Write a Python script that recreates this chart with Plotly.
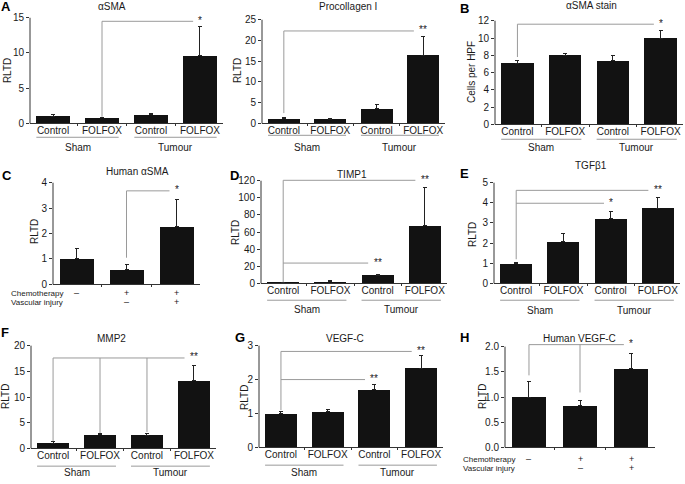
import plotly.graph_objects as go

W, H = 685, 484

# ---------------- data ----------------
cats4 = ["Control", "FOLFOX", "Control", "FOLFOX"]
group_names = ["Sham", "Tumour"]
chemo_signs = ["–", "+", "+"]
vasc_signs = ["", "–", "+"]

asma_vals = [1.05, 0.8, 1.2, 9.6]
asma_err = [0.2, 0.1, 0.2, 4.1]
procol_vals = [1.1, 1.0, 3.6, 16.5]
procol_err = [0.3, 0.25, 1.0, 4.4]
asma_stain_vals = [7.1, 8.0, 7.4, 10.0]
asma_stain_err = [0.35, 0.2, 0.6, 0.85]
h_asma_vals = [1.0, 0.57, 2.28]
h_asma_err = [0.43, 0.22, 1.07]
timp1_vals = [1.0, 2.3, 9.6, 67.3]
timp1_err = [0.3, 0.6, 1.4, 44.7]
tgfb1_vals = [0.98, 2.07, 3.23, 3.74]
tgfb1_err = [0.08, 0.42, 0.34, 0.52]
mmp2_vals = [1.0, 2.7, 2.6, 13.2]
mmp2_err = [0.35, 0.2, 0.35, 3.0]
vegfc_vals = [1.0, 1.06, 1.71, 2.34]
vegfc_err = [0.06, 0.07, 0.15, 0.37]
h_vegfc_vals = [1.0, 0.83, 1.56]
h_vegfc_err = [0.3, 0.1, 0.3]

# significance brackets: (from bar, to bar, level, label, [(drop bar, drop down to)])
asma_br = [(1, 3, 14.5, "*", [(1, 0.95)])]
procol_br = [(0, 3, 22.3, "**", [(0, 2.5)])]
asma_stain_br = [(0, 3, 11.6, "*", [(0, 7.8)])]
h_asma_br = [(1, 2, 3.68, "*", [(1, 1.05)])]
timp1_br = [(0, 3, 120.5, "**", [(0, 1.5)]), (0, 2, 23.8, "**", [])]
tgfb1_br = [(0, 3, 4.62, "**", [(0, 1.2)]), (0, 2, 3.98, "*", [])]
mmp2_br = [(0, 3, 17.6, "**", [(0, 1.4), (1, 3.0), (2, 3.2)])]
vegfc_br = [(0, 3, 2.83, "**", [(0, 1.1)]), (0, 2, 2.0, "**", [])]
h_vegfc_br = [(0, 2, 2.04, "*", [(0, 1.43), (1, 1.09)])]

# ---------------- layout specs (pixel geometry) ----------------
panels = [
    dict(letter="A", lpos=(6, 7), title="αSMA", tpos=(112, 7), ylab="RLTD", ylpos=(7, 72),
         vals=asma_vals, err=asma_err, br=asma_br, top=15, dtick=5,
         xl=30, xr=223, yt=18, yz=125, kind="sham", glines=(139, 149)),
    dict(letter="", lpos=(0, 0), title="Procollagen I", tpos=(348, 7), ylab="RLTD", ylpos=(237, 72),
         vals=procol_vals, err=procol_err, br=procol_br, top=25, dtick=5,
         xl=262, xr=445, yt=20, yz=125, kind="sham", glines=(137, 149)),
    dict(letter="B", lpos=(465, 9), title="αSMA stain", tpos=(591, 6), ylab="Cells per HPF", ylpos=(471, 73),
         vals=asma_stain_vals, err=asma_stain_err, br=asma_stain_br, top=12, dtick=2,
         xl=495, xr=683, yt=21, yz=126, kind="sham", glines=(141, 149)),
    dict(letter="C", lpos=(7, 178), title="Human αSMA", tpos=(137, 174), ylab="RLTD", ylpos=(34, 235),
         vals=h_asma_vals, err=h_asma_err, br=h_asma_br, top=4, dtick=1,
         xl=53, xr=200, yt=185, yz=288, kind="chemo", glines=(297, 306), chx=10),
    dict(letter="D", lpos=(234, 178), title="TIMP1", tpos=(352, 177), ylab="RLTD", ylpos=(235, 236),
         vals=timp1_vals, err=timp1_err, br=timp1_br, top=120, dtick=20,
         xl=261, xr=447, yt=183, yz=287, kind="sham", glines=(304, 313)),
    dict(letter="E", lpos=(465, 176), title="TGFβ1", tpos=(591, 168), ylab="RLTD", ylpos=(472, 238),
         vals=tgfb1_vals, err=tgfb1_err, br=tgfb1_br, top=5, dtick=1,
         xl=494, xr=680, yt=185, yz=287, kind="sham", glines=(304, 314)),
    dict(letter="F", lpos=(5, 337), title="MMP2", tpos=(111, 343), ylab="RLTD", ylpos=(5, 402),
         vals=mmp2_vals, err=mmp2_err, br=mmp2_br, top=20, dtick=5,
         xl=31, xr=216, yt=350, yz=454, kind="sham", glines=(472, 478)),
    dict(letter="G", lpos=(240, 342), title="VEGF-C", tpos=(345, 343), ylab="RLTD", ylpos=(244, 403),
         vals=vegfc_vals, err=vegfc_err, br=vegfc_br, top=3, dtick=1,
         xl=259, xr=443, yt=350, yz=453, kind="sham", glines=(471, 478)),
    dict(letter="H", lpos=(465, 342), title="Human VEGF-C", tpos=(579, 343), ylab="RLTD", ylpos=(482, 402),
         vals=h_vegfc_vals, err=h_vegfc_err, br=h_vegfc_br, top=2.0, dtick=0.5,
         xl=505, xr=655, yt=351, yz=453, kind="chemo", glines=(465, 474), chx=462),
]

FONT = "Liberation Sans, Arial, Helvetica, sans-serif"
TXT = "#1a1a1a"
BAR = "#121212"
GRAY = "#9a9a9a"
AX = "#333333"
HEAD = 9  # px headroom above top tick

def px(x):
    return x / W

def py(y):
    return 1 - y / H

def note(x, y, text, xref="paper", yref="paper", size=10, xanchor="center", **kw):
    d = dict(x=x, y=y, xref=xref, yref=yref, text=text, showarrow=False,
             xanchor=xanchor, yanchor="middle", font=dict(size=size, color=TXT))
    d.update(kw)
    return d

fig = go.Figure()
layout = dict(width=W, height=H, margin=dict(l=0, r=0, t=0, b=0),
              paper_bgcolor="white", plot_bgcolor="white", showlegend=False,
              font=dict(family=FONT, size=10, color=TXT))
shapes, annots = [], []

for i, p in enumerate(panels, start=1):
    n = len(p["vals"])
    xs = list(range(n))
    xa, ya = ("x" if i == 1 else f"x{i}"), ("y" if i == 1 else f"y{i}")
    xk, yk = ("xaxis" if i == 1 else f"xaxis{i}"), ("yaxis" if i == 1 else f"yaxis{i}")
    bw = 0.68
    fig.add_trace(go.Bar(
        x=xs, y=p["vals"], width=bw, marker=dict(color=BAR, line=dict(width=0)),
        error_y=dict(type="data", symmetric=False, array=p["err"], arrayminus=[0] * n,
                     color="#222222", thickness=1, width=2),
        xaxis=xa, yaxis=ya, hoverinfo="skip"))
    ratio = (p["yz"] - p["yt"] + HEAD) / (p["yz"] - p["yt"])
    pad = 0.47
    layout[xk] = dict(
        domain=[px(p["xl"]), px(p["xr"])], anchor=ya, range=[-pad, n - 1 + pad],
        tickmode="array", tickvals=xs,
        ticktext=(cats4 if p["kind"] == "sham" else [""] * n),
        ticks="", showline=True, linecolor=AX, linewidth=1, showgrid=False, zeroline=False,
        tickfont=dict(size=10, color=TXT), ticklabelstandoff=-2, ticklabeloverflow="allow",
        minor=dict(tickvals=[k + 0.5 for k in range(n)], ticks="outside", ticklen=2,
                   tickcolor=AX, showgrid=False),
        fixedrange=True)
    layout[yk] = dict(
        domain=[py(p["yz"]), py(p["yt"] - HEAD)], anchor=xa, range=[0, p["top"] * ratio],
        tickmode="linear", tick0=0, dtick=p["dtick"],
        tickformat=(".1f" if p["dtick"] < 1 else ""),
        ticks="outside", ticklen=3, tickcolor=AX, showline=False, showgrid=False,
        zeroline=False, tickfont=dict(size=10, color=TXT), ticklabeloverflow="allow",
        fixedrange=True)
    # y axis line, ending at the top tick
    shapes.append(dict(type="line", xref="paper", yref="paper",
                       x0=px(p["xl"]), x1=px(p["xl"]), y0=py(p["yz"]), y1=py(p["yt"]),
                       line=dict(color=AX, width=1)))
    # significance brackets
    for (a, b, lev, lab, drops) in p["br"]:
        end = b - (0.2 if lab == "**" else 0.14)
        shapes.append(dict(type="line", xref=xa, yref=ya, x0=a, x1=end, y0=lev, y1=lev,
                           line=dict(color=GRAY, width=1)))
        for (d, low) in drops:
            shapes.append(dict(type="line", xref=xa, yref=ya, x0=d, x1=d, y0=low, y1=lev,
                               line=dict(color=GRAY, width=1)))
        annots.append(note(b, lev, lab, xref=xa, yref=ya, yshift=1))
    # group labels
    if p["kind"] == "sham":
        for g, name in enumerate(group_names):
            x0, x1 = 2 * g - bw / 2, 2 * g + 1 + bw / 2
            shapes.append(dict(type="line", xref=xa, yref="paper", x0=x0, x1=x1,
                               y0=py(p["glines"][0]), y1=py(p["glines"][0]),
                               line=dict(color=GRAY, width=1)))
            annots.append(note((x0 + x1) / 2, py(p["glines"][1]), name, xref=xa, borderpad=0))
    else:
        for row, (name, signs) in enumerate([("Chemotherapy", chemo_signs),
                                             ("Vascular injury", vasc_signs)]):
            yrow = py(p["glines"][row])
            annots.append(note(px(p["chx"]), yrow, name, size=8, xanchor="left", borderpad=0))
            for k, s in enumerate(signs):
                if s:
                    annots.append(note(k, yrow, s, xref=xa, size=9, borderpad=0))
    # titles, letters, y labels
    annots.append(note(px(p["tpos"][0]), py(p["tpos"][1]), p["title"]))
    if p["letter"]:
        annots.append(dict(x=px(p["lpos"][0]), y=py(p["lpos"][1]), xref="paper", yref="paper",
                           text="<b>" + p["letter"] + "</b>", showarrow=False,
                           xanchor="center", yanchor="middle", borderpad=0,
                           font=dict(size=13, color="#000")))
    annots.append(note(px(p["ylpos"][0]), py(p["ylpos"][1]), p["ylab"], textangle=-90))

layout["shapes"] = shapes
layout["annotations"] = annots
layout["bargap"] = 0
fig.update_layout(**layout)
# the page's default body margin would offset the 685x484 figure; remove it
fig.write_html("out.html", config={"displayModeBar": False},
               post_script="document.body.style.margin='0';document.body.style.overflow='hidden';")
